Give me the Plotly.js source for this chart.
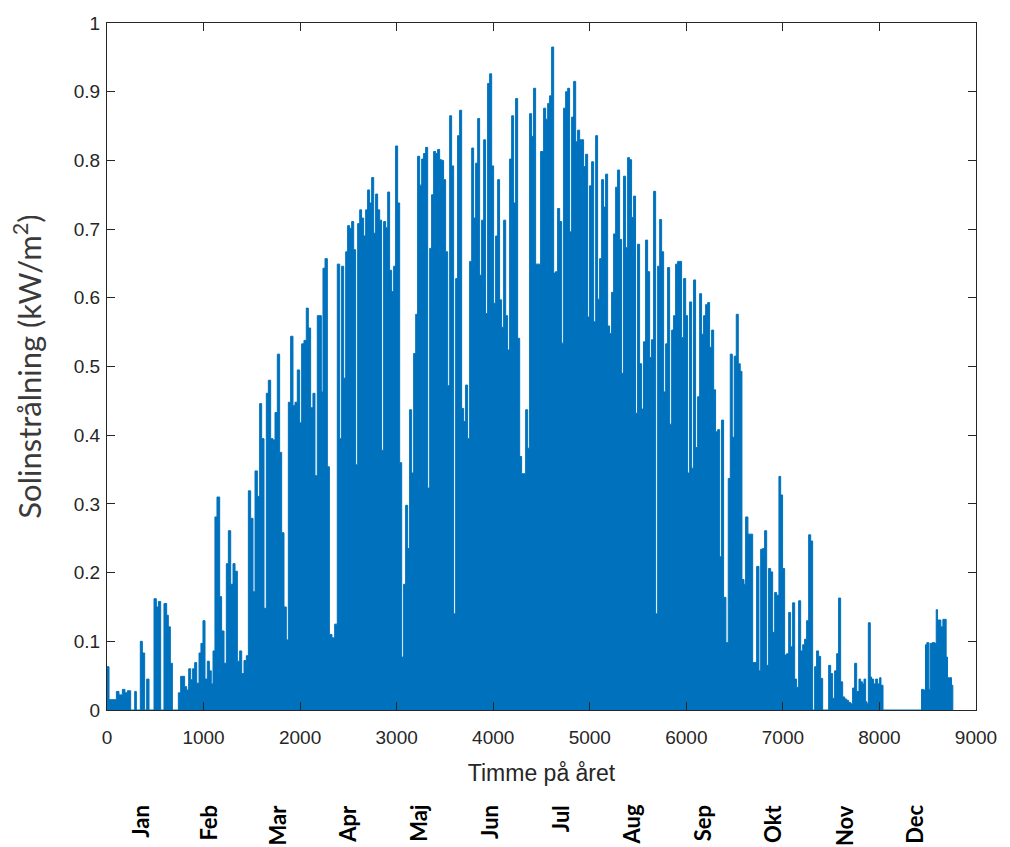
<!DOCTYPE html>
<html>
<head>
<meta charset="utf-8">
<script src="https://cdn.plot.ly/plotly-3.0.1.min.js"></script>
<style>html,body{margin:0;padding:0;background:#fff;}#chart{width:1010px;height:847px;}</style>
</head>
<body>
<div id="chart"></div>
<script>
// Daily solar irradiance peaks: start hour of each reading and its level (kW/m2)
const q1Hours = [0,21,97,124,159,186,211,245,287,304,345,366,390,411,435,487,511,532,556,590,618,635,656,677,739,763,804,825,846,867,887,908,929,953,973,994,1015,1039,1060,1080,1098,1118,1139,1167,1187,1212,1236,1257,1281,1305,1326,1350,1374,1395,1419,1443,1464,1488,1512,1533,1557,1581,1602,1626,1650,1671,1695,1719,1740,1764,1788,1809,1833,1857,1878,1902,1926,1947,1971,1995,2016,2040,2064,2085,2109,2133,2154,2178];
const q1Peak  = [0.063,0.015,0.027,0.022,0.030,0.025,0.028,0,0.027,0,0.100,0.083,0,0.045,0,0.162,0.150,0.158,0,0.155,0.138,0.121,0.068,0,0.025,0.049,0.034,0.029,0.060,0.044,0.060,0.069,0.039,0.083,0.097,0.130,0.045,0.071,0.057,0.038,0.086,0.281,0.310,0.165,0.115,0.068,0.213,0.261,0.183,0.213,0.202,0.071,0.086,0.053,0.072,0.079,0.319,0.279,0.172,0.348,0.311,0.446,0.395,0.148,0.461,0.480,0.395,0.393,0.433,0.518,0.375,0.258,0.150,0.102,0.448,0.544,0.443,0.448,0.495,0.418,0.533,0.538,0.585,0.556,0.440,0.461,0.341,0.574];

const q2Hours = [2196,2220,2237,2258,2282,2303,2330,2358,2385,2410,2430,2451,2472,2492,2513,2534,2555,2575,2596,2617,2637,2658,2679,2699,2720,2741,2762,2782,2803,2824,2844,2865,2886,2907,2927,2948,2969,2989,3010,3031,3052,3072,3093,3114,3134,3155,3176,3197,3217,3238,3259,3279,3300,3321,3342,3362,3383,3404,3424,3445,3466,3486,3507,3528,3549,3569,3590,3611,3631,3652,3673,3694,3714,3735,3756,3777,3797,3818,3839,3859,3880,3901,3921,3942,3963,3984,4004,4025,4046,4066,4087,4108,4129,4149,4170,4191,4211,4232,4253,4274,4294,4315,4336,4357,4377,4398,4418,4439];
const q2Peak  = [0.574,0.463,0.643,0.657,0.354,0.110,0.105,0.125,0.649,0.395,0.646,0.483,0.667,0.705,0.701,0.711,0.670,0.357,0.708,0.728,0.716,0.690,0.728,0.757,0.738,0.775,0.694,0.751,0.728,0.713,0.378,0.711,0.702,0.754,0.640,0.609,0.646,0.821,0.738,0.360,0.077,0.183,0.298,0.235,0.437,0.345,0.519,0.576,0.806,0.764,0.802,0.810,0.819,0.323,0.672,0.750,0.813,0.810,0.816,0.801,0.800,0.772,0.667,0.472,0.865,0.792,0.140,0.628,0.836,0.873,0.439,0.420,0.473,0.395,0.653,0.818,0.716,0.796,0.861,0.633,0.713,0.830,0.577,0.912,0.926,0.792,0.592,0.690,0.772,0.597,0.557,0.713,0.574,0.524,0.802,0.865,0.738,0.890,0.541,0.369,0.344,0.344,0.437,0.381,0.868,0.835,0.905,0.649];

const q3Hours = [4474,4491,4522,4543,4564,4584,4605,4626,4646,4667,4688,4709,4729,4750,4771,4791,4812,4833,4854,4874,4895,4916,4936,4957,4978,4998,5019,5040,5061,5081,5102,5123,5143,5164,5185,5205,5226,5247,5268,5288,5309,5330,5350,5371,5392,5412,5433,5454,5474,5495,5516,5537,5557,5578,5599,5620,5640,5661,5682,5703,5724,5744,5765,5786,5806,5827,5848,5868,5889,5910,5930,5951,5972,5993,6013,6034,6055,6075,6096,6117,6138,6158,6179,6200,6221,6241,6262,6283,6303,6324,6345,6365,6386,6410,6434,6455,6476,6496,6517,6538,6558,6576];
const q3Peak  = [0.649,0.813,0.876,0.860,0.883,0.894,0.965,0.636,0.638,0.730,0.711,0.534,0.876,0.900,0.905,0.696,0.863,0.915,0.827,0.844,0.830,0.830,0.791,0.809,0.572,0.763,0.798,0.565,0.836,0.598,0.657,0.772,0.732,0.780,0.559,0.548,0.608,0.693,0.761,0.786,0.685,0.490,0.777,0.673,0.804,0.801,0.717,0.748,0.432,0.678,0.504,0.438,0.536,0.684,0.638,0.513,0.539,0.755,0.140,0.646,0.714,0.667,0.463,0.533,0.644,0.416,0.553,0.574,0.649,0.653,0.653,0.542,0.628,0.574,0.345,0.594,0.352,0.626,0.382,0.456,0.606,0.547,0.574,0.590,0.593,0.528,0.553,0.466,0.405,0.408,0.223,0.422,0.164,0.098,0.337,0.518,0.397,0.515,0.576,0.504,0.493,0.190];

const q4Hours = [6597,6614,6638,6687,6728,6752,6770,6790,6811,6832,6852,6873,6894,6915,6935,6959,6977,6997,7018,7039,7060,7080,7101,7122,7142,7163,7184,7205,7225,7246,7267,7288,7308,7329,7349,7370,7391,7412,7474,7495,7515,7536,7557,7577,7598,7619,7640,7660,7681,7702,7722,7743,7764,7788,7805,7823,7840,7857,7871,7885,7905,7919,7940,7961,7981,8002,8016,8037,8436,8456,8477,8491,8512,8525,8546,8574,8588,8601,8615,8636,8657,8671,8691,8705,8726,8746,8760];
const q4Peak  = [0.183,0.281,0.256,0.069,0.209,0.057,0.234,0.235,0.261,0.065,0.206,0.201,0.113,0.171,0.167,0.340,0.313,0.206,0.080,0.082,0.142,0.092,0.156,0.045,0.033,0.159,0.086,0.095,0.103,0.130,0.255,0.246,0,0.063,0.086,0.078,0.046,0,0.065,0.053,0.017,0.057,0.082,0.163,0.041,0.019,0.016,0.014,0.011,0.009,0.032,0.068,0.027,0.045,0.041,0.038,0.045,0.012,0.009,0.127,0.048,0.045,0.038,0.045,0.038,0.047,0.036,0,0.030,0.029,0.095,0.098,0.030,0.097,0.098,0.097,0.146,0.131,0.131,0.121,0.132,0.132,0.077,0.047,0.047,0.036,0];

const monthLabels = ['Jan','Feb','Mar','Apr','Maj','Jun','Jul','Aug','Sep','Okt','Nov','Dec'];
const monthDays = [31,28,31,30,31,30,31,31,30,31,30,31];

const hours = [].concat(q1Hours, q2Hours, q3Hours, q4Hours);
const peak  = [].concat(q1Peak, q2Peak, q3Peak, q4Peak);

const trace = {
  type: 'scatter', mode: 'lines',
  x: hours, y: peak,
  line: {shape: 'hv', color: '#0072BD', width: 1},
  fill: 'tozeroy', fillcolor: '#0072BD',
  hoverinfo: 'skip', showlegend: false
};

// month label annotations near the month centres (in hours)
const annotations = [];
let cum = 0;
monthLabels.forEach((m, i) => {
  const centre = (cum + monthDays[i] / 2) * 24 - 25;
  cum += monthDays[i];
  annotations.push({
    text: m, x: centre, xref: 'x', y: -0.135, yref: 'paper',
    textangle: -90, showarrow: false, xanchor: 'center', yanchor: 'top',
    font: {family: 'Lato, "Open Sans", sans-serif', size: 22, color: '#000', weight: 'bold'}
  });
});

const axisCommon = {
  showline: true, linecolor: '#262626', linewidth: 1, mirror: 'ticks',
  ticks: 'inside', ticklen: 8, tickcolor: '#262626', tickwidth: 1,
  showgrid: false, zeroline: false,
  tickfont: {family: '"Liberation Sans", Arial, sans-serif', size: 19, color: '#262626'}
};

const layout = {
  width: 1010, height: 847,
  margin: {l: 107, r: 34, t: 23, b: 137},
  paper_bgcolor: '#fff', plot_bgcolor: '#fff',
  showlegend: false,
  xaxis: Object.assign({}, axisCommon, {
    range: [0, 9000], tick0: 0, dtick: 1000,
    ticklabelstandoff: 10,
    title: {text: 'Timme på året', standoff: 18,
            font: {family: '"Liberation Sans", Arial, sans-serif', size: 23, color: '#262626'}}
  }),
  yaxis: Object.assign({}, axisCommon, {
    range: [0, 1], tick0: 0, dtick: 0.1,
    ticklabelstandoff: 2,
    title: {text: 'Solinstrålning (kW/m<sup>2</sup>)', standoff: 22,
            font: {family: 'Lato, "Open Sans", sans-serif', size: 31, color: '#3a3a3a'}}
  }),
  annotations: annotations
};

Plotly.newPlot('chart', [trace], layout, {displayModeBar: false, staticPlot: true});
</script>
</body>
</html>
